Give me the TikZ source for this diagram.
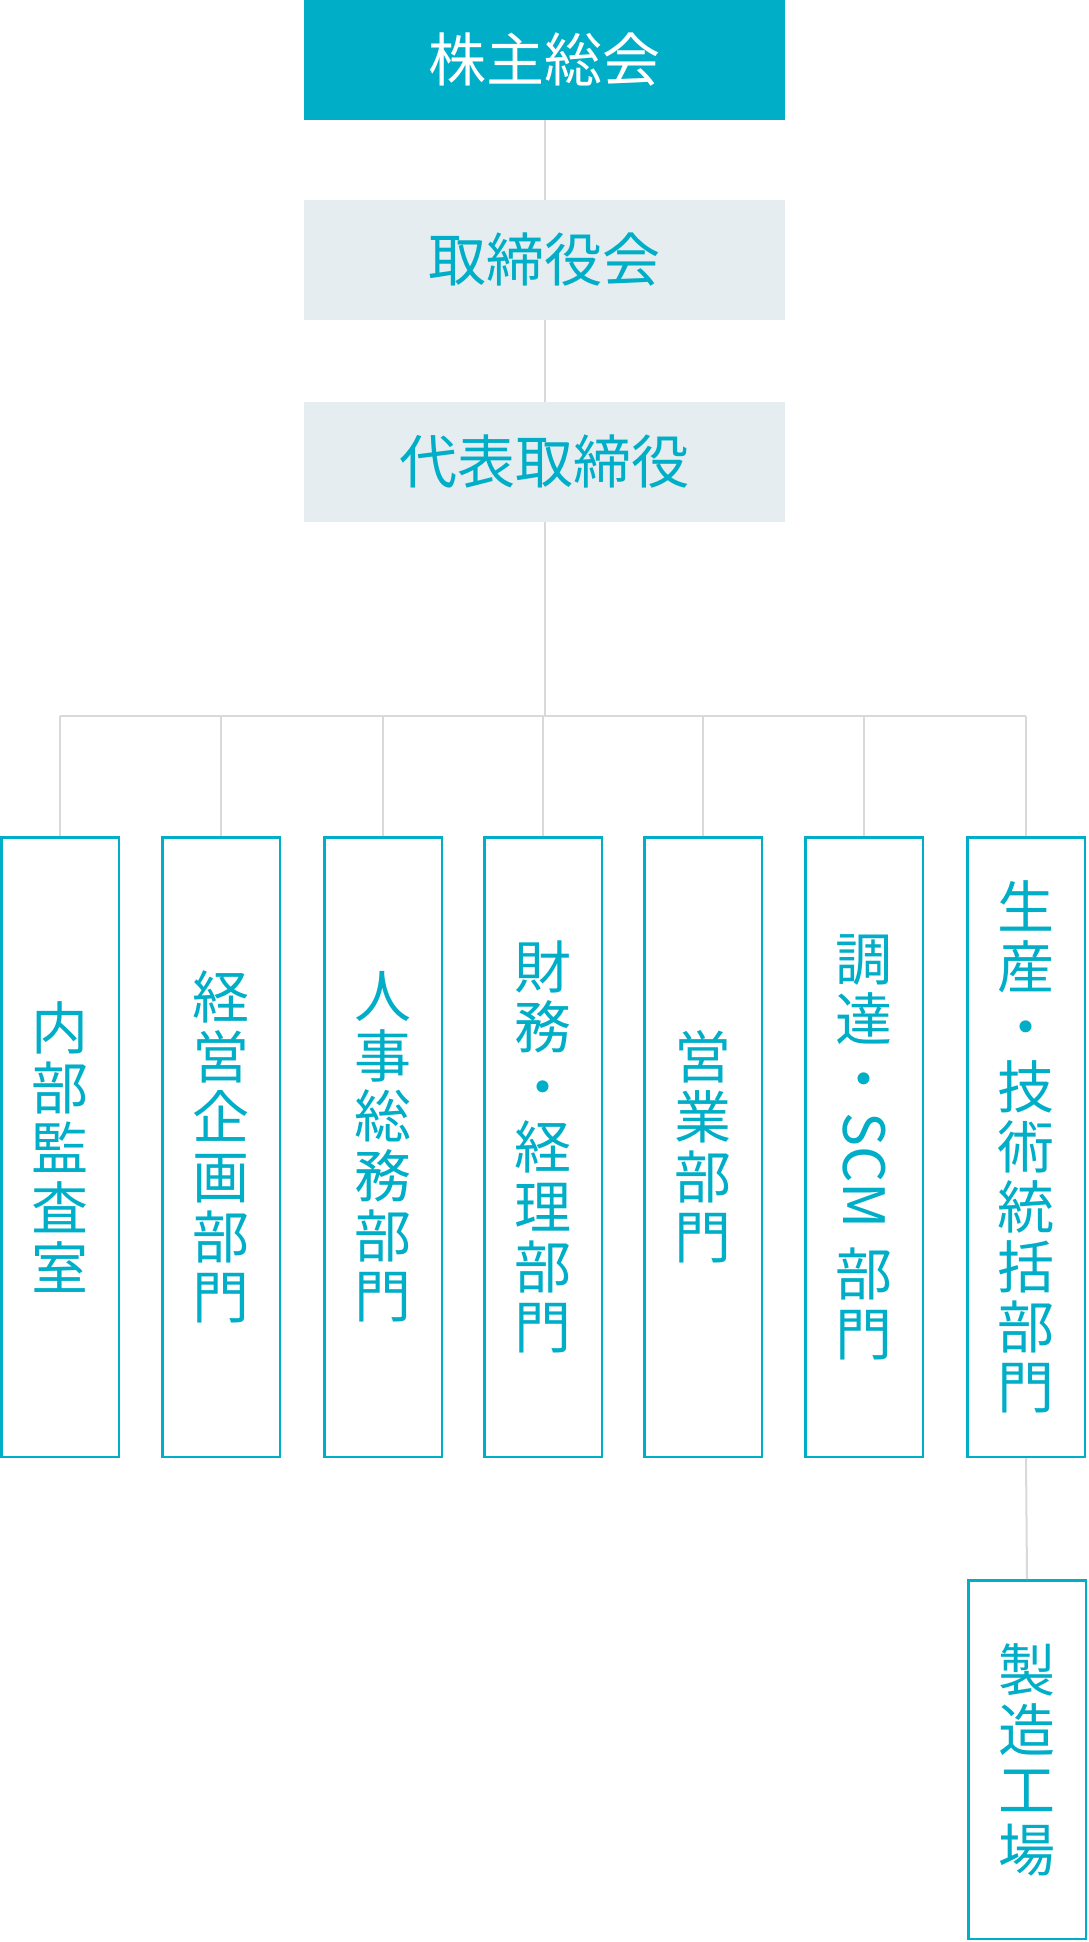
\documentclass[tikz,border=0pt]{standalone}
\usepackage{fontspec}
\usepackage{graphicx}
\newfontfamily\jp{Noto Sans CJK JP}
\definecolor{orgteal}{HTML}{00AEC7}
\definecolor{orgpale}{HTML}{E5EDF0}
\definecolor{orgline}{HTML}{D9D9D9}
\tikzset{
  headbox/.style={fill=orgteal,text=white,inner sep=0pt,
    minimum width=481pt,minimum height=120pt,
    font=\jp\fontsize{58}{60}\selectfont},
  execbox/.style={headbox,fill=orgpale,text=orgteal},
  deptbox/.style={draw=orgteal,line width=2.5pt,fill=white,text=orgteal,
    inner sep=0pt,minimum width=117.5pt,minimum height=619.5pt,align=center,
    font=\jp\fontsize{57}{60}\selectfont},
  link/.style={draw=orgline,line width=2pt},
}
% rotated latin run inside vertical text
\newcommand{\sideways}[1]{\raisebox{48pt}[0pt][0pt]{\rotatebox{-90}{#1}}}

\begin{document}
\begin{tikzpicture}[x=1pt,y=-1pt,line cap=butt]
\useasboundingbox (0,0) rectangle (1088,1942);
\fill[white] (0,0) rectangle (1088,1942);

% top of the chain
\node[headbox] (agm) at (544.5,60) {株主総会};
\node[execbox] (board) at (544.5,260) {取締役会};
\node[execbox] (ceo) at (544.5,462) {代表取締役};
\coordinate (bus) at (0,715.7);

% departments
\node[deptbox] (audit) at (60,1147) {内\\部\\監\\査\\室};
\node[deptbox] (plan) at (221,1147) {経\\営\\企\\画\\部\\門};
\node[deptbox] (hr) at (383,1147) {人\\事\\総\\務\\部\\門};
\node[deptbox] (fin) at (543,1147) {財\\務\\・\\経\\理\\部\\門};
\node[deptbox] (sales) at (703,1147) {営\\業\\部\\門};
\node[deptbox] (scm) at (864,1147)
  {調\\達\\・\\\sideways{SCM}\\[75pt]部\\門};
\node[deptbox] (prod) at (1026,1147) {生\\産\\・\\技\\術\\統\\括\\部\\門};
\node[deptbox,minimum height=358.5pt] (plant) at (1027,1759.5)
  {製\\造\\工\\場};

% connectors
\draw[link] (agm.south) -- (board.north);
\draw[link] (board.south) -- (ceo.north);
\draw[link] (ceo.south) -- (ceo.south |- bus);
\draw[link] (audit.north |- bus) -- (prod.north |- bus);
\draw[link] (audit.north |- bus) -- (audit.north);
\draw[link] (plan.north |- bus) -- (plan.north);
\draw[link] (hr.north |- bus) -- (hr.north);
\draw[link] (fin.north |- bus) -- (fin.north);
\draw[link] (sales.north |- bus) -- (sales.north);
\draw[link] (scm.north |- bus) -- (scm.north);
\draw[link] (prod.north |- bus) -- (prod.north);
\draw[link] (prod.south) -- (plant.north);

\end{tikzpicture}
\end{document}
